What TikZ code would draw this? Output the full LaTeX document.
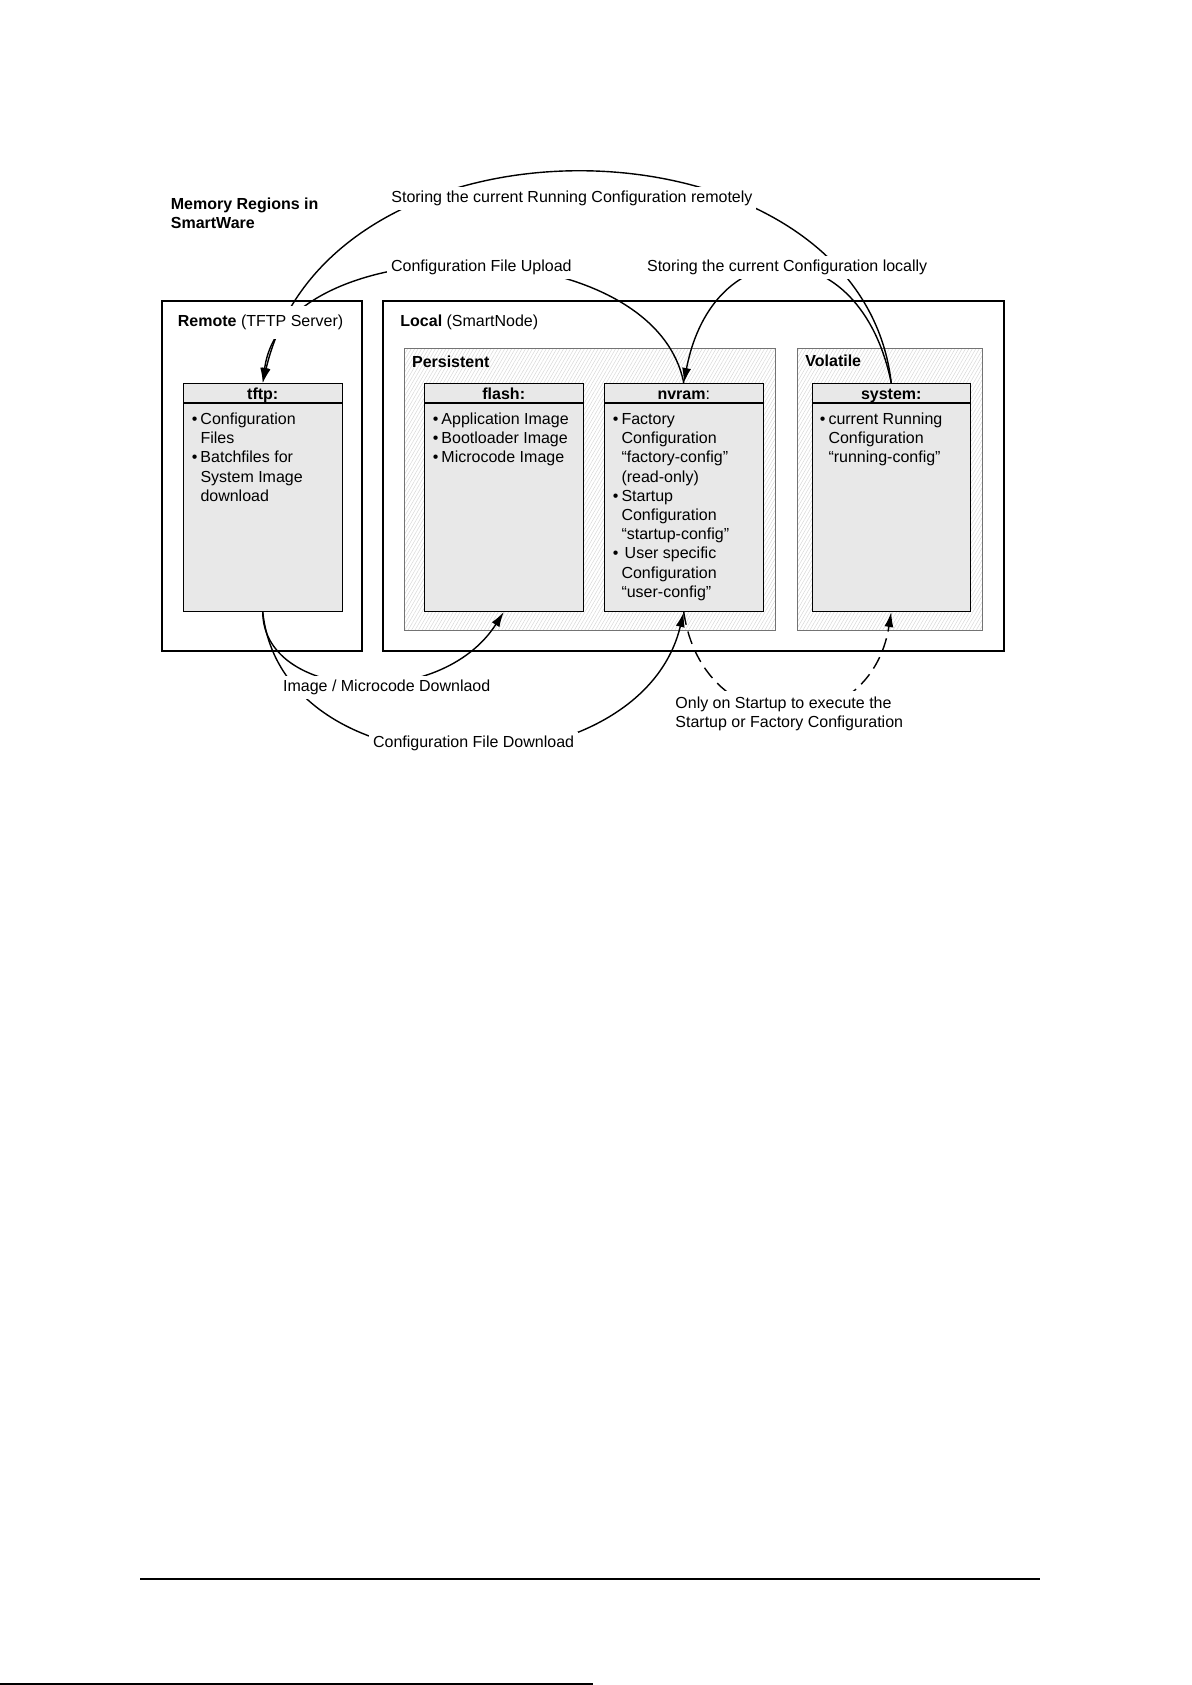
\documentclass[tikz,border=0pt]{standalone}
\usepackage{fontspec}
\setmainfont{Liberation Sans}
\usetikzlibrary{arrows.meta,patterns.meta}
\definecolor{boxfill}{RGB}{232,232,232}
\definecolor{hatchc}{RGB}{215,215,215}
\newcommand\lf{\fontsize{8}{9.6}\selectfont}
\newcommand\bul{\makebox[4.3pt][l]{•}}
\newcommand\ind{\hspace*{4.3pt}}
\newcommand\fl{\rule{0pt}{7pt}}
\begin{document}
\begin{tikzpicture}[x=0.5pt,y=-0.5pt,
  every node/.style={font=\lf},
  outerbox/.style={draw,line width=1pt,anchor=north west,inner sep=0,minimum height=175pt},
  regionbox/.style={draw=black!55,line width=0.4pt,anchor=north west,inner sep=0,minimum height=141pt,
     pattern={Lines[angle=60,distance=1.5pt,line width=0.25pt]},pattern color=hatchc},
  membox/.style={draw,line width=0.5pt,fill=boxfill,anchor=north west,inner sep=0,minimum width=79.25pt,minimum height=114pt},
  hdr/.style={anchor=base,inner sep=0,font=\lf\bfseries},
  boxtext/.style={anchor=north west,inner sep=0,align=left},
  conn/.style={line width=0.7pt},
  arr/.style={-{Latex[length=7.5pt,width=4.5pt]}},
  dsh/.style={dash pattern=on 6.5pt off 3.5pt},
  lbl/.style={fill=white,inner xsep=2pt,inner ysep=2pt,anchor=base west},
]
\useasboundingbox (0,0) rectangle (1191,1685);

% title
\node[anchor=north west,inner sep=0,align=left,font=\lf\bfseries] (title) at (170.5,195) {\fl Memory Regions in\\SmartWare};

% outer boxes
\node[outerbox,minimum width=100pt] (remote) at (161,300) {};
\node[outerbox,minimum width=310.5pt] (local) at (382,300) {};
\node[anchor=base west,inner sep=0] (locallbl) at (400,326.7) {\textbf{Local} (SmartNode)};

% regions
\node[regionbox,minimum width=185.5pt] (persist) at (404,348) {};
\node[regionbox,minimum width=92.5pt] (volat) at (797,348) {};
\node[anchor=base west,inner sep=0,font=\lf\bfseries] (persistlbl) at (411.7,367.3) {Persistent};
\node[anchor=base west,inner sep=0,font=\lf\bfseries] (volatlbl) at (805,366.7) {Volatile};

% memory boxes
\node[membox] (tftp) at (183,383) {};
\node[membox] (flash) at (424,383) {};
\node[membox] (nvram) at (604,383) {};
\node[membox] (system) at (811.5,383) {};
\foreach \b in {tftp,flash,nvram,system}{
  \draw[line width=0.8pt] ([yshift=-10pt]\b.north west) -- ([yshift=-10pt]\b.north east);
}
\node[hdr] (tftph) at ([yshift=-8pt]tftp.north) {tftp:};
\node[hdr] (flashh) at ([yshift=-8pt]flash.north) {flash:};
\node[hdr] (nvramh) at ([yshift=-8pt]nvram.north) {nvram{\mdseries:}};
\node[hdr] (systemh) at ([yshift=-8pt]system.north) {system:};

\node[boxtext] (tftptxt) at (191.5,410) {\fl\bul Configuration\\\ind Files\\\bul Batchfiles for\\\ind System Image\\\ind download};
\node[boxtext] (flashtxt) at (432.5,410) {\fl\bul Application Image\\\bul Bootloader Image\\\bul Microcode Image};
\node[boxtext] (nvramtxt) at (612.5,410) {\fl\bul Factory\\\ind Configuration\\\ind “factory-config”\\\ind (read-only)\\\bul Startup\\\ind Configuration\\\ind “startup-config”\\\bul\hspace*{1.6pt}User specific\\\ind Configuration\\\ind “user-config”};
\node[boxtext] (systemtxt) at (819.5,410) {\fl\bul current Running\\\ind Configuration\\\ind “running-config”};

% connectors
\draw[conn,arr] (system.north) .. controls (860,110) and (330,95) .. (tftp.north);
\draw[conn,arr] (system.north) .. controls (860,230) and (713,230) .. (nvram.north);
\draw[conn,arr] (nvram.north) .. controls (653,227) and (283,227) .. (tftp.north);
\draw[conn,arr] (tftp.south) .. controls (263,700) and (440,712) .. (flash.south);
\draw[conn,arr] (tftp.south) .. controls (283,800) and (640,795) .. (nvram.south);
\draw[conn,dsh,arr] (nvram.south) .. controls (703,745) and (870,745) .. (system.south);

% labels over connectors
\node[fill=white,inner xsep=2pt,inner ysep=4.5pt,anchor=base west] (remotelbl) at (173.5,326.7) {\textbf{Remote} (TFTP Server)};
\node[lbl] (lremote) at (387,203) {Storing the current Running Configuration remotely};
\node[lbl] (lupload) at (386.7,271.7) {Configuration File Upload};
\node[lbl] (llocal) at (642.7,271.7) {Storing the current Configuration locally};
\node[lbl] (limage) at (278.7,691.7) {Image / Microcode Downlaod};
\node[lbl] (lcfgdl) at (368.7,747.3) {Configuration File Download};
\node[fill=white,inner sep=2pt,anchor=north west,align=left] (lstartup) at (671,690.3) {\fl Only on Startup to execute the\\Startup or Factory Configuration};

% page rules
\coordinate (f1) at (140,1579);
\coordinate (f2) at (1040,1579);
\draw[line width=0.6pt] (f1) -- (f2);
\coordinate (b1) at (0,1684);
\coordinate (b2) at (593,1684);
\draw[line width=0.8pt] (b1) -- (b2);
\end{tikzpicture}
\end{document}
